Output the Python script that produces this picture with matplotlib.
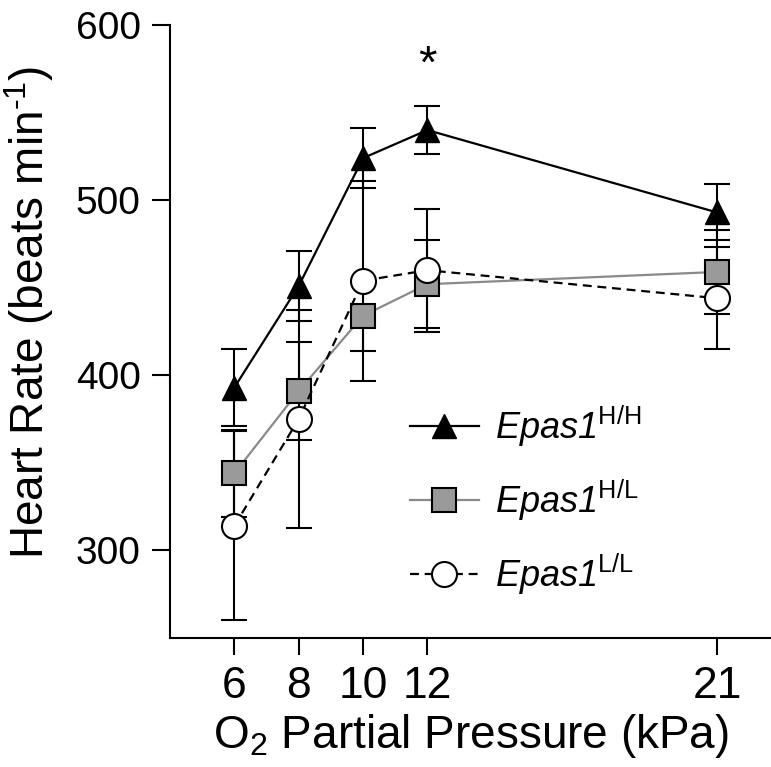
import matplotlib
matplotlib.use("Agg")
import matplotlib.pyplot as plt

plt.rcParams['font.family'] = ['Liberation Sans', 'DejaVu Sans']
plt.rcParams['mathtext.fontset'] = 'custom'
plt.rcParams['mathtext.rm'] = 'Liberation Sans'
plt.rcParams['mathtext.it'] = 'Liberation Sans:italic'
plt.rcParams['mathtext.sf'] = 'Liberation Sans:italic'
plt.rcParams['mathtext.bf'] = 'Liberation Sans:bold'

# Data
o2_kpa = [6, 8, 10, 12, 21]
hh_mean = [393, 451, 524, 540, 493]
hh_err = [22, 20, 17, 13.5, 16]
hl_mean = [344, 391, 434, 452, 459]
hl_err = [25, 28, 20, 25, 24]
ll_mean = [314, 375, 454, 460, 444]
ll_err = [54, 62, 57, 35, 29]
x_ticks = [6, 8, 10, 12, 21]
y_ticks = [300, 400, 500, 600]
labels = [r'$\mathsf{Epas1}^{\mathrm{H/H}}$',
          r'$\mathsf{Epas1}^{\mathrm{H/L}}$',
          r'$\mathsf{Epas1}^{\mathrm{L/L}}$']
sig_x = 12
sig_y = 577

W, H = 771, 767
fig = plt.figure(figsize=(W / 100, H / 100), dpi=100)
ax = fig.add_axes([170 / W, (H - 638) / H, (W - 170) / W, (638 - 25) / H])

eb_kw = dict(fmt='none', ecolor='black', elinewidth=1.5, capsize=9.5, capthick=1.5, zorder=2)
ax.errorbar(o2_kpa, hh_mean, yerr=hh_err, **eb_kw)
ax.errorbar(o2_kpa, hl_mean, yerr=hl_err, **eb_kw)
ax.errorbar(o2_kpa, ll_mean, yerr=ll_err, **eb_kw)

l_hl, = ax.plot(o2_kpa, hl_mean, color='#8a8a8a', lw=1.6, marker='s', ms=17,
                mfc='#9a9a9a', mec='black', mew=1.5, zorder=3)
l_ll, = ax.plot(o2_kpa, ll_mean, color='black', lw=1.6, ls=(0, (4, 2.6)), marker='o', ms=18,
                mfc='white', mec='black', mew=1.5, zorder=4)
l_hh, = ax.plot(o2_kpa, hh_mean, color='black', lw=1.6, marker='^', ms=17,
                mfc='black', mec='black', mew=1.0, zorder=5)

ax.text(sig_x, sig_y, '*', ha='center', va='center', fontsize=34)

ax.set_xlim(4.0, 22.68)
ax.set_ylim(250, 600)
ax.set_xticks(x_ticks)
ax.set_xticklabels([str(v) for v in x_ticks])
ax.set_yticks(y_ticks)

for s in ['top', 'right']:
    ax.spines[s].set_visible(False)
for s in ['left', 'bottom']:
    ax.spines[s].set_linewidth(1.5)

ax.tick_params(axis='x', direction='out', length=12, width=1.5, pad=8, labelsize=32)
ax.tick_params(axis='y', direction='out', length=13, width=1.5, pad=8, labelsize=28)

ax.set_xlabel(r'O$_{2}$ Partial Pressure (kPa)', fontsize=33, labelpad=4)
ax.set_ylabel(r'Heart Rate (beats min$^{\text{-1}}$)', fontsize=33)
ax.yaxis.set_label_coords(-0.19, 0.532)

leg = ax.legend([l_hh, l_hl, l_ll], labels, loc='upper left',
                bbox_to_anchor=((410 - 170) / (W - 170), (638 - 404) / (638 - 25)),
                frameon=False, fontsize=26, handlelength=1.9, handletextpad=0.45,
                labelspacing=0.8, borderaxespad=0, borderpad=0, numpoints=1)

fig.savefig('out.png', dpi=100)
